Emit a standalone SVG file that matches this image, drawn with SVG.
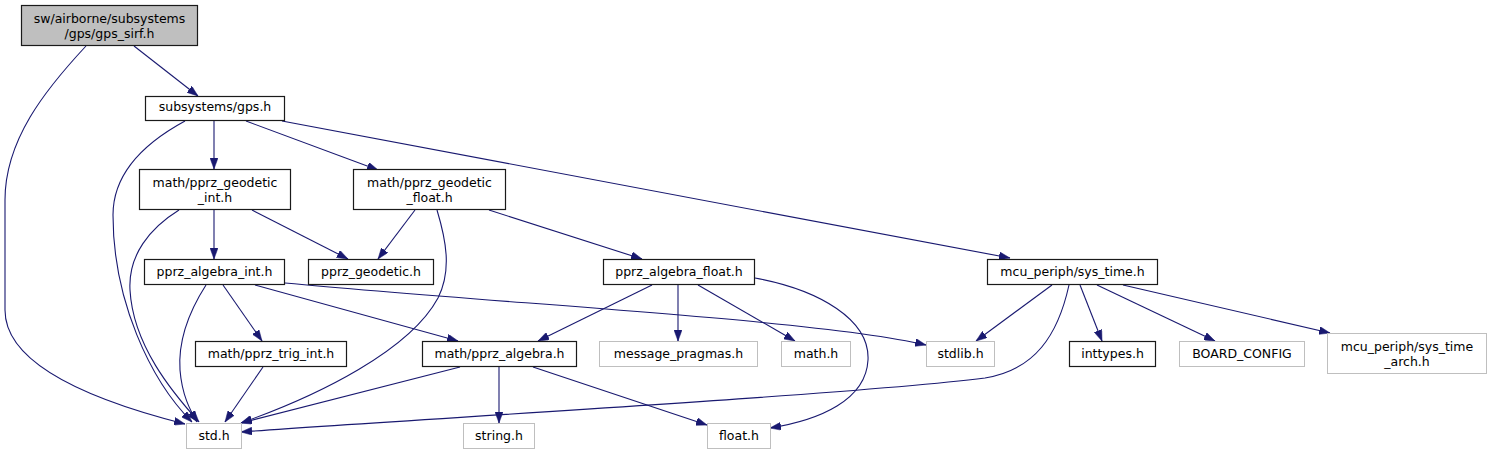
<svg xmlns="http://www.w3.org/2000/svg" width="1491" height="455" viewBox="0 0 1491 455">
<defs>
<style>
.n rect{fill:#ffffff;stroke:#1a1a1a;stroke-width:1.2}
.n.g rect{stroke:#bfbfbf;stroke-width:1}
.n.root rect{fill:#bfbfbf}
text{font-family:"DejaVu Sans","Liberation Sans",sans-serif;font-size:12.5px;text-anchor:middle;fill:#000000}
.e path{fill:none;stroke:#191970;stroke-width:1.1;marker-end:url(#ah)}
</style>
<marker id="ah" markerUnits="userSpaceOnUse" viewBox="0 0 11 8" markerWidth="11" markerHeight="8" refX="11" refY="4" orient="auto">
<path d="M0,0 L11,4 L0,8 z" fill="#191970" stroke="#191970" stroke-width="0.5"/>
</marker>
</defs>
<rect x="0" y="0" width="1491" height="455" fill="#ffffff"/>
<g id="edges" class="e">
<path d="M134,46 L198,96"/>
<path d="M86,46 C45,90 5,140 5,200 L5,310 C5,370 110,405 185,424"/>
<path d="M214,121 L214,169"/>
<path d="M246,121 L378,170"/>
<path d="M282,121 L1010,258"/>
<path d="M185,121 C150,140 113,170 113,215 C113,300 150,380 192,422"/>
<path d="M214,210 L214,259"/>
<path d="M252,210 L348,259"/>
<path d="M179,210 C150,228 128,255 130,290 C133,345 172,392 199,422"/>
<path d="M415,210 L378,259"/>
<path d="M437,210 C446,240 452,270 438,298 C410,350 320,395 241,423"/>
<path d="M489,210 L642,259"/>
<path d="M206,285 C190,310 178,340 180,370 C182,395 190,410 197,422"/>
<path d="M223,285 L262,341"/>
<path d="M255,285 L458,341"/>
<path d="M285,283 C520,305 820,320 926,345"/>
<path d="M652,285 L538,341"/>
<path d="M678,285 L678,341"/>
<path d="M698,285 L795,341"/>
<path d="M755,278 C820,290 870,320 868,360 C866,400 820,420 770,428"/>
<path d="M460,367 L241,423"/>
<path d="M499,367 L499,423"/>
<path d="M533,367 L707,425"/>
<path d="M263,367 L225,422"/>
<path d="M1052,285 L976,341"/>
<path d="M1069,285 C1058,335 1035,370 985,378 C850,395 400,420 241,432"/>
<path d="M1080,285 L1102,341"/>
<path d="M1097,285 L1215,341"/>
<path d="M1123,285 L1330,333"/>
</g>
<g id="node-gps_sirf" class="n root"><rect x="21.5" y="5.5" width="176" height="40"/><text x="109.5" y="22.5">sw/airborne/subsystems</text><text x="109.5" y="37.5">/gps/gps_sirf.h</text></g>
<g id="node-gps" class="n"><rect x="145.5" y="96.5" width="139" height="24"/><text x="215" y="111">subsystems/gps.h</text></g>
<g id="node-geodetic_int" class="n"><rect x="139.5" y="169.5" width="151" height="40"/><text x="215" y="186.5">math/pprz_geodetic</text><text x="215" y="201.5">_int.h</text></g>
<g id="node-geodetic_float" class="n"><rect x="353.5" y="169.5" width="152" height="40"/><text x="429.5" y="186.5">math/pprz_geodetic</text><text x="429.5" y="201.5">_float.h</text></g>
<g id="node-algebra_int" class="n"><rect x="144.5" y="259.5" width="140" height="25"/><text x="214.5" y="276">pprz_algebra_int.h</text></g>
<g id="node-geodetic" class="n"><rect x="308.5" y="259.5" width="125" height="25"/><text x="371" y="276">pprz_geodetic.h</text></g>
<g id="node-algebra_float" class="n"><rect x="603.5" y="259.5" width="151" height="25"/><text x="679" y="276">pprz_algebra_float.h</text></g>
<g id="node-sys_time" class="n"><rect x="987.5" y="259.5" width="170" height="25"/><text x="1072.5" y="276">mcu_periph/sys_time.h</text></g>
<g id="node-trig_int" class="n"><rect x="195.5" y="341.5" width="151" height="25"/><text x="271" y="358">math/pprz_trig_int.h</text></g>
<g id="node-algebra" class="n"><rect x="422.5" y="341.5" width="154" height="25"/><text x="499.5" y="358">math/pprz_algebra.h</text></g>
<g id="node-message_pragmas" class="n g"><rect x="599.5" y="341.5" width="158" height="25"/><text x="678.5" y="358">message_pragmas.h</text></g>
<g id="node-math" class="n g"><rect x="781.5" y="341.5" width="69" height="25"/><text x="816" y="358">math.h</text></g>
<g id="node-stdlib" class="n g"><rect x="926.5" y="341.5" width="68" height="25"/><text x="960.5" y="358">stdlib.h</text></g>
<g id="node-inttypes" class="n"><rect x="1069.5" y="341.5" width="86" height="25"/><text x="1112.5" y="358">inttypes.h</text></g>
<g id="node-board_config" class="n g"><rect x="1179.5" y="341.5" width="125" height="25"/><text x="1242" y="358">BOARD_CONFIG</text></g>
<g id="node-sys_time_arch" class="n g"><rect x="1327.5" y="333.5" width="159" height="40"/><text x="1407" y="350.5">mcu_periph/sys_time</text><text x="1407" y="365.5">_arch.h</text></g>
<g id="node-std" class="n g"><rect x="186.5" y="423.5" width="55" height="25"/><text x="214" y="440">std.h</text></g>
<g id="node-string" class="n g"><rect x="463.5" y="423.5" width="71" height="25"/><text x="499" y="440">string.h</text></g>
<g id="node-float" class="n g"><rect x="707.5" y="423.5" width="63" height="25"/><text x="739" y="440">float.h</text></g>
</svg>
